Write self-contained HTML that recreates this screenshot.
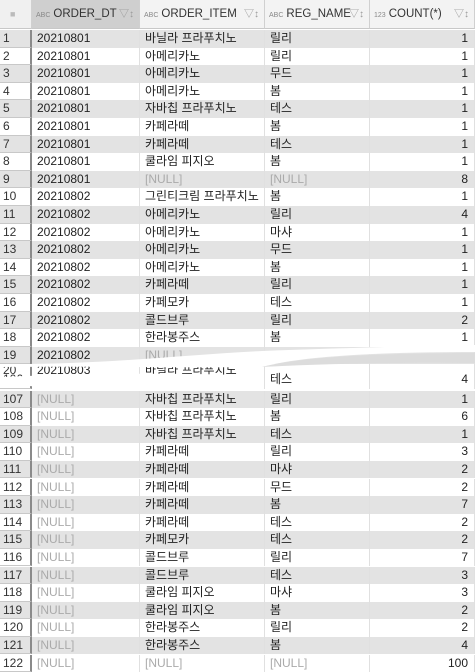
<!DOCTYPE html>
<html><head><meta charset="utf-8">
<style>
body{margin:0;width:475px;height:670px;overflow:hidden;background:#fff;font-family:"Liberation Sans","Noto Sans CJK KR",sans-serif;font-size:12px;color:#222;position:relative}
.hdr{position:absolute;top:0;height:29px;background:#f3f3f3;border-right:1px solid #d0d0d0;border-bottom:1px solid #c8c8c8;box-sizing:border-box;font-size:11.5px;line-height:29px;color:#333;white-space:nowrap;overflow:hidden}
.hdr .t{font-size:7px;color:#888;margin-right:3px}
.hdr .f{position:absolute;right:5px;top:0;color:#999;font-size:10px}
.row{position:absolute;left:0;width:475px;height:17.6px}
.c{position:absolute;top:0;height:100%;line-height:17.6px;box-sizing:border-box;padding-left:5px;border-right:1px solid #e0e0e0;white-space:nowrap;overflow:hidden}
.odd{background:#e3e3e3}
.num{left:0;width:32px;border-right:2px solid #8a8a8a;border-bottom:1px solid #c8c8c8;color:#333;padding-left:3px}
.null{color:#aaa}
.r{text-align:right;padding-right:6px}
</style></head><body>
<div class="hdr" style="left:0;width:32px;background:#f0f0f0;color:#bbb;padding-left:10px;font-size:9px">&#9632;</div>
<div class="hdr" style="left:32px;width:108px;background:#cfcfcf;padding-left:4px"><span class="t">ABC</span>ORDER_DT<span class="f">&#9661;&#8597;</span></div>
<div class="hdr" style="left:140px;width:125px;padding-left:4px"><span class="t">ABC</span>ORDER_ITEM<span class="f">&#9661;&#8597;</span></div>
<div class="hdr" style="left:265px;width:105px;padding-left:4px"><span class="t">ABC</span>REG_NAME<span class="f">&#9661;&#8597;</span></div>
<div class="hdr" style="left:370px;width:105px;padding-left:4px"><span class="t">123</span>COUNT(*)<span class="f">&#9661;&#8597;</span></div>
<div id="grid"></div>
<svg style="position:absolute;left:0;top:0" width="475" height="670">
<path d="M0,364 C100,365 180,355 262,351 C340,348 420,346 475,345 L475,352 C380,352 300,356 262,367 C180,368 100,366 0,367 Z" fill="#fff"/>
<path d="M262,367 C300,357 380,353 475,353 L475,363 C400,362 320,364 262,367 Z" fill="#dcdcdc"/>
<path d="M0,377 C80,374 180,372 262,376 L262,389 C180,391 80,388 0,385 Z" fill="#fff"/>
</svg>
<script>
const rowNums=["1","2","3","4","5","6","7","8","9","10","11","12","13","14","15","16","17","18","19","20","106","107","108","109","110","111","112","113","114","115","116","117","118","119","120","121","122"];
const orderDt=["20210801","20210801","20210801","20210801","20210801","20210801","20210801","20210801","20210801","20210802","20210802","20210802","20210802","20210802","20210802","20210802","20210802","20210802","20210802","20210803","","[NULL]","[NULL]","[NULL]","[NULL]","[NULL]","[NULL]","[NULL]","[NULL]","[NULL]","[NULL]","[NULL]","[NULL]","[NULL]","[NULL]","[NULL]","[NULL]"];
const orderItem=["바닐라 프라푸치노","아메리카노","아메리카노","아메리카노","자바칩 프라푸치노","카페라떼","카페라떼","쿨라임 피지오","[NULL]","그린티크림 프라푸치노","아메리카노","아메리카노","아메리카노","아메리카노","카페라떼","카페모카","콜드브루","한라봉주스","[NULL]","바닐라 프라푸치노","","자바칩 프라푸치노","자바칩 프라푸치노","자바칩 프라푸치노","카페라떼","카페라떼","카페라떼","카페라떼","카페라떼","카페모카","콜드브루","콜드브루","쿨라임 피지오","쿨라임 피지오","한라봉주스","한라봉주스","[NULL]"];
const regName=["릴리","릴리","무드","봄","테스","봄","테스","봄","[NULL]","봄","릴리","마샤","무드","봄","릴리","테스","릴리","봄","","","테스","릴리","봄","테스","릴리","마샤","무드","봄","테스","테스","릴리","테스","마샤","봄","릴리","봄","[NULL]"];
const counts=[1,1,1,1,1,1,1,1,8,1,4,1,1,1,1,1,2,1,9,8,4,1,6,1,3,2,2,7,2,2,7,3,3,2,2,4,100];
const grid=document.getElementById('grid');
function rowTop(i){ if(i<19) return 30+i*17.6; if(i===19) return 362; if(i===20) return 371; return 390.5+(i-21)*17.6; }
function cell(row,cls,left,width,text){
  const d=document.createElement('div');
  d.className='c '+cls+(text==='[NULL]'?' null':'');
  d.style.left=left+'px';d.style.width=width+'px';
  d.textContent=text;
  row.appendChild(d);return d;
}
for(let i=0;i<rowNums.length;i++){
  const n=parseInt(rowNums[i],10);
  const r=document.createElement('div');
  
  
  r.className='row'+(n%2===1?' odd':'');
  r.style.top=rowTop(i)+'px';
  if(i===19) r.style.background='transparent';
  cell(r,'num',0,32,rowNums[i]);
  cell(r,'',32,108,orderDt[i]);
  cell(r,'',140,125,orderItem[i]);
  cell(r,'',265,105,regName[i]);
  cell(r,'r',370,105,((i===18||i===19)?'':String(counts[i])));
  grid.appendChild(r);
}
</script>
</body></html>
